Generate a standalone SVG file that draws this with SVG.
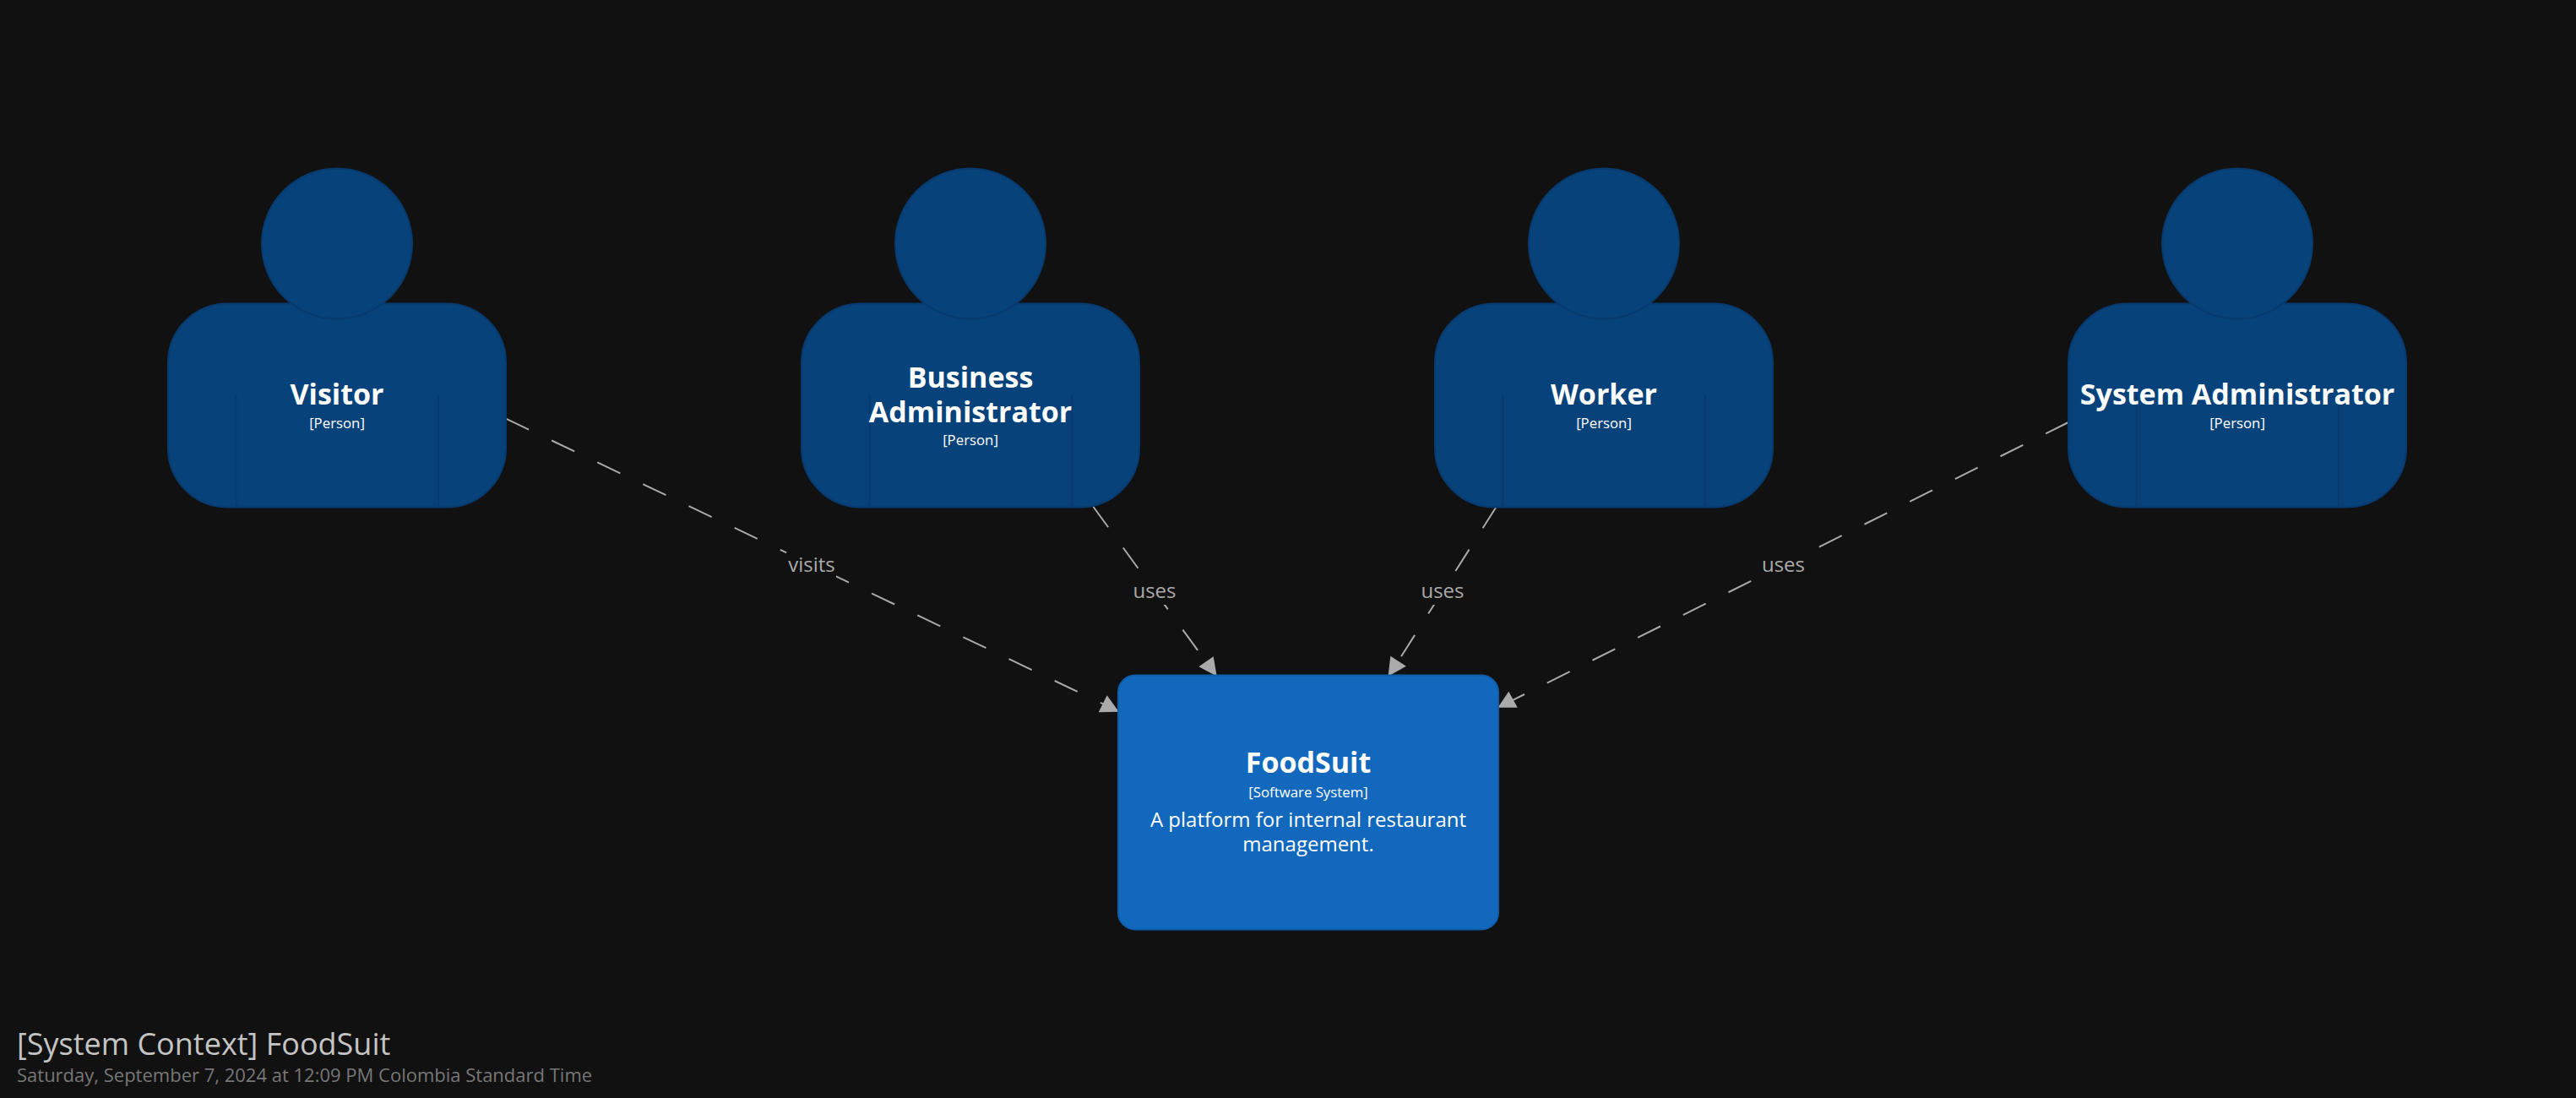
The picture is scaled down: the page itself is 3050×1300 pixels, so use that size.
<svg xmlns="http://www.w3.org/2000/svg" width="3050" height="1300" viewBox="0 0 3050 1300">
<style>
text{font-family:"Open Sans","Noto Sans","Liberation Sans",sans-serif;text-anchor:middle}
.body,.head{fill:#08427b;stroke:#073b6f;stroke-width:2}
.leg{fill:none;stroke:#073b6f;stroke-width:2}
.name{font-size:34px;font-weight:700;fill:#fff}
.meta{font-size:16.8px;fill:#fff}
.desc{font-size:24px;fill:#fff}
.box{fill:#1168bd;stroke:#0f5eaa;stroke-width:2}
.edge{fill:none;stroke:#aaa;stroke-width:2;stroke-dasharray:30 30}
.tip{fill:#aaa}
.lbg{fill:#111}
.lbl{font-size:24px;fill:#aaa}
.ttl{font-size:36px;fill:#c4c4c4;text-anchor:start}
.sub{font-size:22px;fill:#777;text-anchor:start}
</style>
<defs>
<g id="person">
<rect class="body" x="199" y="359.5" width="400" height="241" rx="70" ry="70"/>
<circle class="head" cx="399" cy="288.5" r="89"/>
<path class="leg" d="M279.5 467V600M519 467V600"/>
</g>
</defs>
<rect width="3050" height="1300" fill="#111"/>
<g id="connectors">
<line class="edge" x1="599" y1="495.65" x2="1324" y2="842"/>
<line class="edge" x1="1294.5" y1="600" x2="1440" y2="800"/>
<line class="edge" x1="1771.7" y1="600" x2="1644.5" y2="800"/>
<line class="edge" x1="2449" y1="500" x2="1775" y2="837"/>
<polygon class="tip" points="1324.7,842.7 1300.7,843.3 1310.7,823.3"/>
<polygon class="tip" points="1440.7,800.7 1436.7,777.3 1419.4,789.3"/>
<polygon class="tip" points="1643.6,800.7 1646.3,776.7 1664.9,788.7"/>
<polygon class="tip" points="1773.5,837.7 1796.8,837.7 1786.3,818.7"/>
<rect class="lbg" x="931" y="653.5" width="59" height="31"/>
<rect class="lbg" x="1339.5" y="685" width="55" height="31"/>
<rect class="lbg" x="1680" y="685" width="55" height="31"/>
<rect class="lbg" x="2084" y="654" width="55" height="31"/>
<text class="lbl" x="961" y="676.5">visits</text>
<text class="lbl" x="1367" y="708">uses</text>
<text class="lbl" x="1708" y="708">uses</text>
<text class="lbl" x="2111.5" y="676.5">uses</text>
</g>
<g id="visitor">
<use href="#person"/>
<text class="name" x="399" y="478.5">Visitor</text>
<text class="meta" x="399" y="506.5">[Person]</text>
</g>
<g id="business-administrator">
<use href="#person" x="750"/>
<text class="name" x="1149" y="458.5">Business</text>
<text class="name" x="1149" y="499.5">Administrator</text>
<text class="meta" x="1149" y="527">[Person]</text>
</g>
<g id="worker">
<use href="#person" x="1500"/>
<text class="name" x="1899" y="478.5">Worker</text>
<text class="meta" x="1899" y="506.5">[Person]</text>
</g>
<g id="system-administrator">
<use href="#person" x="2250"/>
<text class="name" x="2649" y="478.5">System Administrator</text>
<text class="meta" x="2649" y="506.5">[Person]</text>
</g>
<g id="foodsuit">
<rect class="box" x="1324" y="799.5" width="450" height="301" rx="20" ry="20"/>
<text class="name" x="1549" y="915">FoodSuit</text>
<text class="meta" x="1549" y="943.5">[Software System]</text>
<text class="desc" x="1549" y="979">A platform for internal restaurant</text>
<text class="desc" x="1549" y="1007.5">management.</text>
</g>
<g id="title">
<text class="ttl" x="20" y="1248.5">[System Context] FoodSuit</text>
<text class="sub" x="20" y="1281">Saturday, September 7, 2024 at 12:09 PM Colombia Standard Time</text>
</g>
</svg>
